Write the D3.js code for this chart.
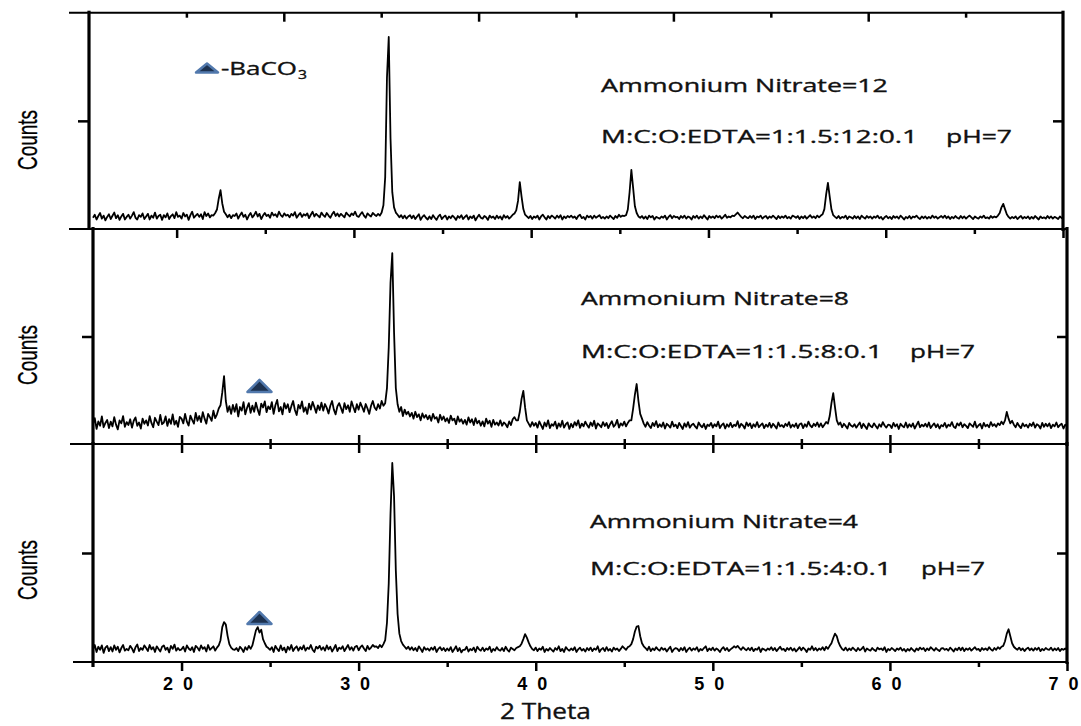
<!DOCTYPE html>
<html>
<head>
<meta charset="utf-8">
<title>XRD patterns</title>
<script src="https://d3js.org/d3.v7.min.js"></script>
<style>
body { margin: 0; background: #fff; }
path.trace { stroke: #000; fill: none; stroke-width: 1.8; stroke-linejoin: round; }
line.frame { stroke: #000; }
.tick line { stroke: #000; stroke-width: 2.5; }
.note { font-family: "Open Sans", Lato, sans-serif; font-size: 17.5px; fill: #111; stroke: #111; stroke-width: 0.35; }
.counts { font-family: "Liberation Sans", Arial, sans-serif; font-size: 19px; fill: #000; stroke: #000; stroke-width: 0.2; }
.xlab text { font-family: "Liberation Sans", Arial, sans-serif; font-weight: bold; font-size: 18px; fill: #000; }
</style>
</head>
<body>
<div id="chart"></div>
<script>
// 2-theta sampling of every pattern: 15.0 .. 70.0 in steps of 0.1
var thetaStart = 15, thetaStep = 0.1;

// ammonium nitrate = 12 (one row per degree, 15..69, then 70.0)
var counts12 = [
  52,66,44,60,74,48,62,40,56,68,
  46,61,76,50,64,42,58,70,44,56,
  66,48,62,78,52,44,64,56,72,46,
  58,70,44,62,52,76,48,60,66,42,
  64,54,72,46,60,68,50,78,56,62,
  48,74,58,66,42,64,80,52,62,70,
  56,68,46,78,60,72,54,64,62,74,
  90,140,180,118,80,68,54,66,50,64,
  60,72,48,64,76,56,66,44,62,74,
  54,64,80,58,70,46,62,74,60,66,
  52,76,62,68,56,80,64,56,72,62,
  66,54,70,62,78,52,64,74,56,68,
  62,72,50,66,80,58,70,62,54,76,
  64,56,74,62,52,68,80,60,72,58,
  70,62,54,76,66,58,72,64,80,60,
  56,68,78,62,52,72,64,58,74,66,
  60,70,62,76,110,240,700,888,420,170,
  100,76,66,54,64,50,62,48,58,64,
  50,62,46,58,68,42,56,64,52,44,
  58,46,64,52,42,58,66,46,56,62,
  44,58,50,62,54,42,60,52,64,46,
  56,64,44,58,50,62,40,54,66,52,
  48,60,54,42,62,52,58,46,62,50,
  58,44,64,52,60,48,56,66,72,86,
  130,217,150,92,66,58,50,60,46,58,
  52,62,44,58,66,54,44,60,50,62,
  56,48,62,52,64,44,58,50,60,54,
  62,52,58,46,60,66,50,56,44,62,
  54,60,48,62,52,58,64,50,56,48,
  58,50,62,54,46,60,52,66,56,62,
  60,64,90,170,273,190,105,74,58,52,
  60,48,58,46,62,54,60,44,56,52,
  48,58,52,62,44,56,64,50,60,54,
  56,46,60,52,62,48,58,54,44,60,
  52,62,48,58,50,64,54,44,60,52,
  58,50,62,54,60,48,56,66,52,58,
  54,62,60,68,76,66,56,50,60,54,
  50,60,52,62,46,58,54,62,48,56,
  60,48,58,52,62,54,46,60,50,58,
  52,62,50,56,48,62,58,52,60,46,
  58,50,60,48,56,64,52,58,50,62,
  54,62,68,92,160,213,150,90,64,56,
  50,60,48,56,52,62,46,58,54,48,
  60,50,58,46,62,54,48,60,52,58,
  48,58,52,62,50,56,44,54,60,50,
  56,46,60,52,58,48,62,54,44,56,
  50,60,48,58,54,62,52,46,58,50,
  58,48,56,50,62,52,58,48,54,60,
  52,62,50,58,46,56,50,60,52,48,
  60,50,58,48,56,62,54,46,58,52,
  48,58,52,62,50,54,48,60,52,58,
  54,62,74,100,116,92,68,56,48,56,
  50,58,46,54,60,48,56,50,58,46,
  56,48,60,52,44,58,50,54,48,60,
  50,58,48,56,52,46,58,50,54,48,
  56
];

// ammonium nitrate = 8
var counts8 = [
  92,120,70,105,85,128,78,98,112,74,
  104,82,125,90,68,110,96,130,80,102,
  88,115,76,108,124,84,100,72,118,94,
  110,86,130,98,78,122,104,88,135,92,
  100,128,84,116,94,138,90,108,80,126,
  118,96,140,104,86,132,112,95,145,108,
  130,102,148,118,95,140,125,108,155,120,
  138,165,180,240,316,200,150,176,140,182,
  150,185,128,172,155,195,138,168,190,145,
  178,150,192,160,135,188,170,198,148,175,
  162,195,140,180,205,152,172,138,190,165,
  185,148,176,200,158,135,182,165,198,150,
  170,140,188,160,196,172,145,180,158,192,
  155,186,168,142,178,200,160,138,175,190,
  168,145,190,162,180,150,198,172,148,185,
  160,192,172,150,186,165,140,178,200,170,
  158,185,165,200,178,190,260,450,750,888,
  520,260,185,150,172,130,160,138,150,128,
  145,118,150,125,138,110,142,122,135,115,
  132,108,140,118,125,100,136,112,128,105,
  120,98,132,110,118,92,128,104,115,95,
  112,90,124,100,115,88,120,96,108,85,
  105,82,118,95,108,80,112,90,100,86,
  110,85,100,92,78,105,88,115,125,110,
  110,150,210,247,170,110,95,80,102,85,
  98,76,105,88,70,100,82,110,74,92,
  85,104,72,96,80,108,76,92,100,70,
  94,78,102,86,110,75,95,82,104,88,
  76,100,84,108,72,96,88,78,102,84,
  98,74,92,106,80,90,112,76,96,86,
  104,82,98,110,110,165,230,279,200,140,
  118,95,80,102,86,74,98,84,106,78,
  92,80,100,72,94,86,76,104,82,90,
  74,98,84,70,96,80,102,76,88,94,
  82,72,100,86,78,94,70,90,84,98,
  76,92,82,104,74,88,96,72,92,80,
  98,78,90,84,106,76,94,86,72,100,
  84,96,74,92,80,102,78,88,96,74,
  90,80,98,76,94,84,72,100,82,88,
  78,94,84,102,76,90,80,96,74,92,
  96,74,92,80,104,86,78,94,84,100,
  80,96,78,90,102,95,130,190,237,170,
  110,90,100,78,94,84,72,98,86,80,
  92,76,88,100,74,94,82,70,96,84,
  78,96,84,72,92,80,102,86,76,90,
  88,74,98,82,92,70,94,84,78,100,
  76,92,80,96,72,88,104,78,90,82,
  94,80,100,74,86,96,78,92,72,88,
  82,98,76,90,84,102,80,74,96,86,
  100,78,92,84,74,96,88,80,104,76,
  86,94,72,98,82,90,78,102,84,92,
  80,96,88,104,92,110,149,118,96,108,
  90,78,98,84,74,96,82,90,76,94,
  84,100,76,92,86,72,98,80,94,82,
  96,74,90,82,100,78,88,94,72,90,
  84
];

// ammonium nitrate = 4
var counts4 = [
  58,78,46,70,56,76,42,66,74,50,
  68,48,76,56,70,44,64,78,52,60,
  54,74,62,44,68,80,50,64,56,76,
  64,50,78,58,68,46,72,60,48,70,
  76,56,66,44,74,60,80,52,64,54,
  58,70,48,76,62,54,68,46,74,66,
  52,76,60,68,48,78,56,64,72,52,
  66,76,100,160,183,172,120,82,66,58,
  56,64,50,70,60,46,68,56,74,60,
  76,110,145,160,135,148,105,86,70,64,
  56,68,46,74,60,50,76,54,66,44,
  70,56,78,50,64,72,52,68,58,76,
  52,66,60,78,56,46,70,62,74,56,
  68,52,76,58,70,48,62,78,50,66,
  60,72,50,64,78,56,68,52,70,74,
  54,68,76,62,50,74,58,66,78,70,
  72,64,78,68,82,100,180,360,680,913,
  760,420,220,130,96,80,70,60,70,56,
  68,54,64,50,72,60,46,68,56,62,
  52,66,56,70,46,60,68,54,64,50,
  62,52,68,46,58,72,50,64,44,56,
  56,70,48,60,54,66,46,70,58,52,
  66,50,62,56,70,46,60,52,68,56,
  52,64,50,70,56,48,66,60,54,64,
  68,72,84,105,128,112,90,72,60,54,
  66,50,62,56,70,46,60,52,64,56,
  48,64,56,72,50,60,46,68,58,52,
  62,54,68,46,58,66,52,60,48,64,
  54,66,50,62,56,72,46,58,64,50,
  68,52,60,48,66,56,62,50,60,72,
  64,56,68,72,82,105,140,162,165,118,
  86,72,64,54,70,50,62,54,68,58,
  52,66,56,62,48,60,70,46,58,64,
  60,50,64,54,68,46,58,66,52,62,
  56,68,48,60,54,64,72,50,62,54,
  66,52,62,56,46,60,68,54,64,50,
  58,64,72,66,74,64,56,68,60,54,
  64,54,66,50,60,56,68,46,62,58,
  52,62,56,68,54,64,50,60,70,56,
  60,50,64,56,66,52,62,48,58,68,
  54,66,58,46,62,56,72,54,64,52,
  62,56,68,54,70,60,74,86,110,130,
  118,90,72,60,54,66,52,62,54,66,
  58,50,64,54,60,70,48,62,56,52,
  64,56,50,66,58,62,54,68,46,60,
  54,64,58,50,62,56,66,52,60,48,
  60,52,64,56,48,62,54,66,58,64,
  50,62,54,68,60,52,64,56,50,62,
  64,56,60,52,66,58,48,62,54,66,
  54,66,50,62,56,64,52,60,68,56,
  60,50,64,56,62,54,68,58,52,64,
  56,68,60,70,74,95,130,150,118,86,
  70,62,56,66,54,62,50,60,66,54,
  62,52,64,56,66,50,60,54,64,58,
  56,66,52,62,54,64,50,60,56,62,
  56
];

var nitrate = [12, 8, 4];
var ratioLabels = ['M:C:O:EDTA=1:1.5:12:0.1', 'M:C:O:EDTA=1:1.5:8:0.1', 'M:C:O:EDTA=1:1.5:4:0.1'];
var phLabel = 'pH=7';
var majorTicks = [20, 30, 40, 50, 60, 70];
var minorTicks = [25, 35, 45, 55, 65];
// BaCO3 reflections flagged in the lower two patterns
var bacoMarks = [{ panel: 1, theta: 24.4, count: 270 }, { panel: 2, theta: 24.4, count: 202 }];

var W = 1081, H = 726;
var svg = d3.select('#chart').append('svg').attr('width', W).attr('height', H);

var xData = d3.scaleLinear().domain([15, 70]).range([93, 1067]);

// stretch a text horizontally so it spans the given width
function fit(sel, width) {
  sel.each(function() {
    var t = d3.select(this),
        x = +t.attr('x'), y = +t.attr('y'),
        w = this.getComputedTextLength();
    t.attr('x', 0).attr('y', 0)
      .attr('transform', 'translate(' + x + ',' + y + ') scale(' + (width / w) + ',1)');
  });
  return sel;
}

var panels = [
  { counts: counts12, top: 12.7, bottom: 229, left: 89, right: 1063, lineStart: 69,
    topScale: d3.scaleLinear().domain([10, 60]).range([89, 1063]),
    topMajor: [20, 30, 40, 50], topMinor: [15, 25, 35, 45, 55], bottomScale: null,
    textX: 601, y1: 92, y2: 143, w1: 287, w2: 317, phX: 946, phW: 66, countsY: 140 },
  { counts: counts8, top: 229, bottom: 444, left: 93, right: 1067, lineStart: 70,
    topScale: d3.scaleLinear().domain([15, 70]).range([88, 1063]),
    topMajor: [20, 30, 40, 50, 60, 70], topMinor: minorTicks,
    bottomScale: xData,
    textX: 581, y1: 305, y2: 358, w1: 268, w2: 302, phX: 910, phW: 65, countsY: 355 },
  { counts: counts4, top: 444, bottom: 662, left: 93, right: 1067, lineStart: 73,
    topScale: xData,
    topMajor: [20, 30, 40, 50, 60], topMinor: minorTicks, bottomScale: null,
    textX: 590, y1: 528, y2: 575, w1: 268, w2: 302, phX: 921, phW: 64, countsY: 570 }
];

var tri = 'M-12,6L0,-6L12,6Z';

panels.forEach(function(p, k) {
  var y = d3.scaleLinear().domain([0, 1000]).range([p.bottom, p.top]);
  p.y = y;
  var g = svg.append('g').attr('class', 'panel');

  g.append('clipPath').attr('id', 'clip' + k)
    .append('rect').attr('x', p.left).attr('y', p.top)
    .attr('width', p.right - p.left).attr('height', p.bottom - p.top);

  var line = d3.line()
    .x(function(d, i) { return xData(thetaStart + i * thetaStep); })
    .y(function(d) { return y(d); });

  g.append('path').datum(p.counts).attr('class', 'trace')
    .attr('clip-path', 'url(#clip' + k + ')')
    .attr('d', line);

  // frame
  g.append('line').attr('class', 'frame').attr('stroke-width', 2)
    .attr('x1', p.lineStart).attr('x2', p.right).attr('y1', p.top).attr('y2', p.top);
  g.append('line').attr('class', 'frame').attr('stroke-width', 2)
    .attr('x1', p.lineStart).attr('x2', p.right).attr('y1', p.bottom).attr('y2', p.bottom);
  g.append('line').attr('class', 'frame').attr('stroke-width', 3.2)
    .attr('x1', p.left).attr('x2', p.left).attr('y1', p.top - 2).attr('y2', p.bottom + (k == 2 ? 5 : 1));
  g.append('line').attr('class', 'frame').attr('stroke-width', 3.2)
    .attr('x1', p.right).attr('x2', p.right).attr('y1', p.top - 2).attr('y2', p.bottom + 2);

  // ticks along the top edge, pointing in
  g.append('g').attr('transform', 'translate(0,' + p.top + ')')
    .call(d3.axisTop(p.topScale).tickValues(p.topMajor).tickSize(-9).tickFormat(''))
    .select('.domain').remove();
  g.append('g').attr('transform', 'translate(0,' + p.top + ')')
    .call(d3.axisTop(p.topScale).tickValues(p.topMinor).tickSize(-5).tickFormat(''))
    .select('.domain').remove();
  if (p.bottomScale) {
    g.append('g').attr('transform', 'translate(0,' + p.bottom + ')')
      .call(d3.axisBottom(p.bottomScale).tickValues([20, 30, 40, 50, 60]).tickSize(-9).tickFormat(''))
      .select('.domain').remove();
    g.append('g').attr('transform', 'translate(0,' + p.bottom + ')')
      .call(d3.axisBottom(p.bottomScale).tickValues(minorTicks).tickSize(-5).tickFormat(''))
      .select('.domain').remove();
  }

  // single counts tick on each side
  g.append('g').attr('transform', 'translate(' + p.left + ',0)')
    .call(d3.axisLeft(y).tickValues([500]).tickSize(11).tickFormat(''))
    .select('.domain').remove();
  g.append('g').attr('transform', 'translate(' + p.right + ',0)')
    .call(d3.axisRight(y).tickValues([500]).tickSize(-10).tickFormat(''))
    .select('.domain').remove();

  g.append('text').attr('class', 'counts')
    .attr('transform', 'translate(37,' + p.countsY + ') scale(1.45,1) rotate(-90)')
    .attr('text-anchor', 'middle')
    .attr('textLength', 60).attr('lengthAdjust', 'spacingAndGlyphs')
    .text('Counts');

  fit(g.append('text').attr('class', 'note')
    .attr('x', p.textX).attr('y', p.y1)
    .text('Ammonium Nitrate=' + nitrate[k]), p.w1);
  fit(g.append('text').attr('class', 'note')
    .attr('x', p.textX).attr('y', p.y2)
    .text(ratioLabels[k]), p.w2);
  fit(g.append('text').attr('class', 'note')
    .attr('x', p.phX).attr('y', p.y2)
    .text(phLabel), p.phW);
});

// BaCO3 markers
bacoMarks.forEach(function(m) {
  var p = panels[m.panel];
  svg.append('path').attr('d', tri)
    .attr('transform', 'translate(' + xData(m.theta) + ',' + p.y(m.count) + ')')
    .attr('fill', '#1d3250').attr('stroke', '#5279ad').attr('stroke-width', 2.5)
    .attr('stroke-linejoin', 'round');
});

// legend
svg.append('path').attr('d', 'M-11,4.5L0,-4.5L11,4.5Z')
  .attr('transform', 'translate(207,68)')
  .attr('fill', '#1d3250').attr('stroke', '#5279ad').attr('stroke-width', 2.5)
  .attr('stroke-linejoin', 'round');
fit(svg.append('text').attr('class', 'note')
  .attr('x', 221).attr('y', 75).style('font-size', '18px')
  .text('-BaCO'), 76);
fit(svg.append('text').attr('class', 'note')
  .attr('x', 298).attr('y', 79).style('font-size', '12.5px')
  .text('3'), 9);

// bottom 2-theta axis
var axisY = panels[2].bottom;
var xl = svg.append('g').attr('class', 'xlab').attr('transform', 'translate(0,' + axisY + ')')
  .call(d3.axisBottom(xData).tickValues(majorTicks).tickSize(9).tickPadding(6).tickFormat(d3.format('d')));
xl.select('.domain').remove();
xl.selectAll('text').attr('dx', -4).attr('textLength', 30).attr('lengthAdjust', 'spacing');
svg.append('g').attr('transform', 'translate(0,' + axisY + ')')
  .call(d3.axisBottom(xData).tickValues(minorTicks).tickSize(5).tickFormat(''))
  .select('.domain').remove();

fit(svg.append('text').attr('class', 'note')
  .attr('x', 500).attr('y', 719)
  .style('font-size', '22px')
  .text('2 Theta'), 91);
</script>
</body>
</html>
